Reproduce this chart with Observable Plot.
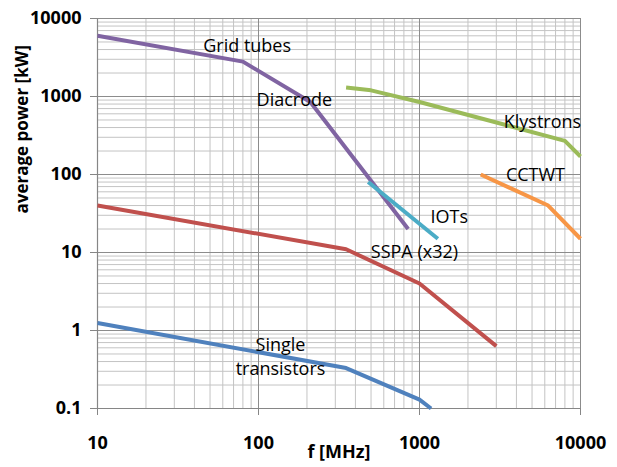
<!DOCTYPE html>
<html>
<head>
<meta charset="utf-8">
<script src="https://cdn.jsdelivr.net/npm/d3@7"></script>
<script src="https://cdn.jsdelivr.net/npm/@observablehq/plot@0.6"></script>
<style>
  html, body { margin: 0; padding: 0; background: white; }
</style>
</head>
<body>
<div id="chart"></div>
<script>
// Tick labels
const xTicks = [10, 100, 1000, 10000];
const yTicks = [0.1, 1, 10, 100, 1000, 10000];

// Series (frequency in MHz, average power in kW)
const transF = [10, 350, 1000, 1180];
const transP = [1.25, 0.33, 0.13, 0.1];
const sspaF = [10, 350, 1000, 3000];
const sspaP = [40, 11, 4, 0.63];
const klyF = [350, 500, 1000, 8000, 10000];
const klyP = [1300, 1200, 850, 270, 170];
const gridF = [10, 80, 210, 850];
const gridP = [6000, 2800, 850, 20];
const iotF = [480, 1300];
const iotP = [80, 15];
const cctwtF = [2400, 6300, 10000];
const cctwtP = [100, 40, 15];

// Series labels
const labelText = ["Grid tubes", "Diacrode", "Klystrons", "CCTWT", "IOTs", "SSPA (x32)", "Single\ntransistors"];
const labelF = [85, 167, 5800, 5250, 1530, 930, 137];
const labelP = [4600, 940, 490, 103, 30, 10.6, 0.48];

const series = [
  {name: "Single transistors", f: transF, p: transP, color: "#4F81BD"},
  {name: "SSPA (x32)", f: sspaF, p: sspaP, color: "#C0504D"},
  {name: "Klystrons", f: klyF, p: klyP, color: "#9BBB59"},
  {name: "Grid tubes", f: gridF, p: gridP, color: "#8064A2"},
  {name: "IOTs", f: iotF, p: iotP, color: "#4BACC6"},
  {name: "CCTWT", f: cctwtF, p: cctwtP, color: "#F79646"}
];

const toRows = s => s.f.map((f, i) => ({f, p: s.p[i]}));
const labels = labelText.map((t, i) => ({text: t, f: labelF[i], p: labelP[i]}));

const xMinor = d3.scaleLog().domain([10, 10000]).ticks();
const yMinor = d3.scaleLog().domain([0.1, 10000]).ticks();

const plot = Plot.plot({
  width: 617,
  height: 467,
  marginLeft: 97,
  marginRight: 37,
  marginTop: 18,
  marginBottom: 59,
  style: {fontFamily: "'Open Sans', sans-serif", background: "white", color: "black"},
  x: {type: "log", domain: [10, 10000]},
  y: {type: "log", domain: [0.1, 10000]},
  marks: [
    Plot.ruleX(xMinor, {stroke: "#c4c4c4", strokeWidth: 1}),
    Plot.ruleY(yMinor, {stroke: "#c4c4c4", strokeWidth: 1}),
    Plot.ruleX(xTicks, {stroke: "#8c8c8c", strokeWidth: 1}),
    Plot.ruleY(yTicks, {stroke: "#8c8c8c", strokeWidth: 1}),
    Plot.ruleX([10], {stroke: "#868686", strokeWidth: 1.2}),
    Plot.ruleY([0.1], {stroke: "#868686", strokeWidth: 1.2}),
    Plot.axisX({ticks: xTicks, tickFormat: d => String(d), tickSize: 7, tickPadding: 21,
      fontSize: 18, fontWeight: "bold", stroke: "#868686", fill: "black", label: null}),
    Plot.axisY({ticks: yTicks, tickFormat: d => String(d), tickSize: 7, tickPadding: 9,
      fontSize: 18, fontWeight: "bold", stroke: "#868686", fill: "black", label: null}),
    ...series.map(s => Plot.line(toRows(s), {x: "f", y: "p", stroke: s.color, strokeWidth: 4,
      strokeLinejoin: "round", strokeLinecap: "butt"})),
    Plot.text(labels, {x: "f", y: "p", text: "text", fontSize: 18, lineHeight: 1.33, fill: "black"}),
    Plot.text(["average power [kW]"], {frameAnchor: "left", dx: -75, rotate: -90,
      fontSize: 17, fontWeight: "bold", fill: "black"}),
    Plot.text(["f [MHz]"], {frameAnchor: "bottom", dy: 49, fontSize: 18, fontWeight: "bold",
      fill: "black", ariaLabel: "xtitle"})
  ]
});

document.getElementById("chart").appendChild(plot);

// italic "f" in the x-axis title
const t = d3.select(plot).select('g[aria-label="xtitle"] text');
t.text(null);
t.append("tspan").attr("font-style", "italic").text("f");
t.append("tspan").attr("dx", "1").text("[MHz]");
</script>
</body>
</html>
